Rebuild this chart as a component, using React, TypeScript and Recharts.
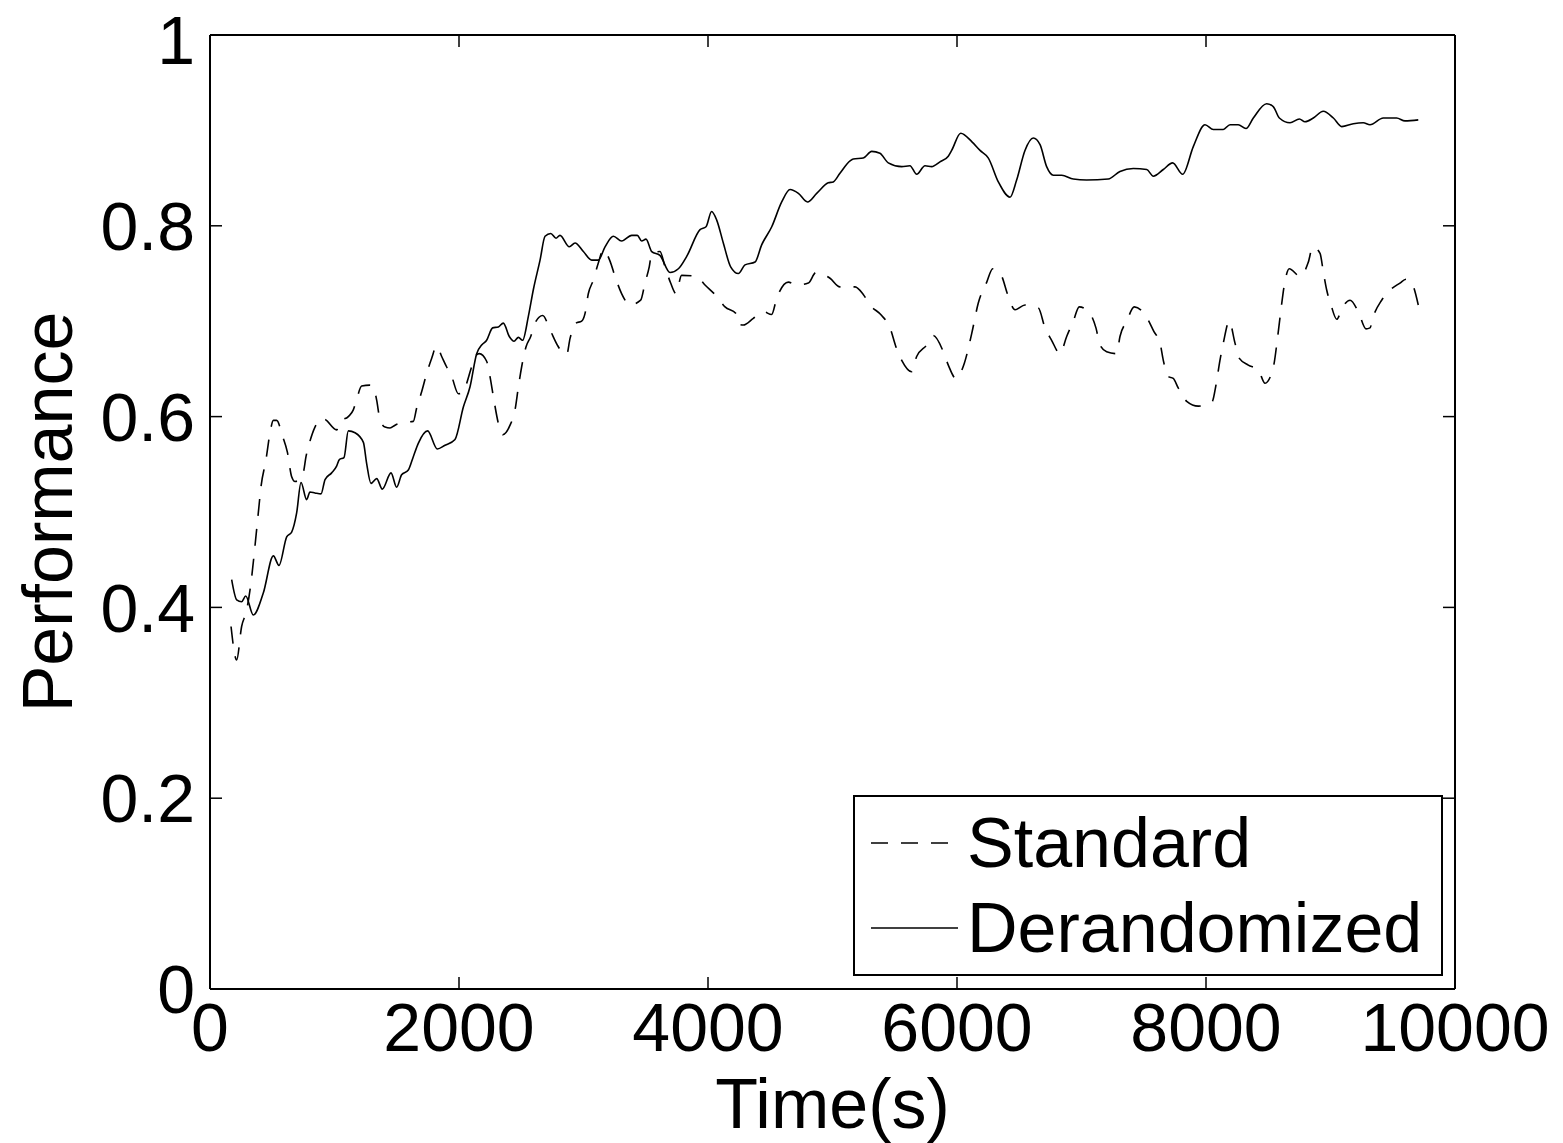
import React from "react";
import { LineChart, Line, XAxis, YAxis, Legend, Label } from "recharts";

interface Pt {
  t: number;
  v: number;
}

const toPts = (rows: number[][]): Pt[] => rows.map(([t, v]) => ({ t, v }));

const xTicks = [0, 2000, 4000, 6000, 8000, 10000];
const yTicks = [0, 0.2, 0.4, 0.6, 0.8, 1];

// "Standard" run (dashed)
const standard = toPts([
  [169, 0.38], [214, 0.345], [254, 0.38], [294, 0.397], [335, 0.432], [361, 0.464],
  [388, 0.499], [410, 0.527], [450, 0.555], [482, 0.583], [509, 0.596], [535, 0.596],
  [584, 0.579], [621, 0.563], [656, 0.537], [683, 0.532], [709, 0.533], [749, 0.541],
  [771, 0.558], [798, 0.572], [843, 0.589], [897, 0.598], [924, 0.597], [1017, 0.586],
  [1044, 0.595], [1111, 0.6], [1151, 0.607], [1178, 0.618], [1218, 0.632], [1285, 0.633],
  [1312, 0.631], [1339, 0.617], [1365, 0.597], [1406, 0.589], [1446, 0.588], [1486, 0.591],
  [1539, 0.594], [1633, 0.595], [1660, 0.609], [1700, 0.626], [1740, 0.645], [1780, 0.661],
  [1821, 0.674], [1861, 0.663], [1901, 0.652], [1941, 0.642], [1995, 0.624], [2035, 0.625],
  [2062, 0.635], [2094, 0.649], [2129, 0.663], [2163, 0.666], [2222, 0.658], [2249, 0.642],
  [2281, 0.617], [2316, 0.593], [2351, 0.581], [2410, 0.591], [2450, 0.607], [2477, 0.631],
  [2503, 0.652], [2538, 0.673], [2576, 0.684], [2610, 0.698], [2672, 0.706], [2731, 0.691],
  [2790, 0.675], [2825, 0.668], [2865, 0.665], [2892, 0.682], [2940, 0.698], [2985, 0.7],
  [3012, 0.708], [3039, 0.729], [3079, 0.743], [3119, 0.761], [3160, 0.775], [3213, 0.763],
  [3253, 0.747], [3306, 0.729], [3373, 0.717], [3459, 0.722], [3494, 0.74], [3528, 0.757],
  [3548, 0.771], [3614, 0.773], [3655, 0.757], [3700, 0.74], [3743, 0.729], [3788, 0.748],
  [3908, 0.747], [3976, 0.738], [4070, 0.726], [4137, 0.715], [4225, 0.708], [4244, 0.697],
  [4284, 0.696], [4364, 0.703], [4444, 0.71], [4511, 0.707], [4552, 0.724], [4645, 0.741],
  [4712, 0.738], [4806, 0.74], [4867, 0.751], [4980, 0.745], [5060, 0.736], [5181, 0.736],
  [5247, 0.728], [5301, 0.717], [5395, 0.706], [5462, 0.693], [5510, 0.673], [5556, 0.659],
  [5636, 0.647], [5676, 0.663], [5757, 0.675], [5810, 0.685], [5890, 0.668], [5930, 0.654],
  [5992, 0.64], [6059, 0.656], [6118, 0.687], [6171, 0.719], [6239, 0.741], [6287, 0.755],
  [6359, 0.747], [6404, 0.729], [6466, 0.712], [6546, 0.717], [6653, 0.714], [6707, 0.693],
  [6760, 0.68], [6827, 0.666], [6881, 0.684], [6934, 0.7], [6982, 0.715], [7068, 0.708],
  [7116, 0.693], [7149, 0.675], [7202, 0.668], [7283, 0.666], [7309, 0.684], [7363, 0.7],
  [7424, 0.715], [7524, 0.704], [7582, 0.689], [7631, 0.677], [7657, 0.659], [7697, 0.642],
  [7737, 0.64], [7777, 0.63], [7845, 0.616], [7938, 0.611], [7992, 0.612], [8051, 0.616],
  [8080, 0.633], [8112, 0.659], [8139, 0.677], [8187, 0.7], [8233, 0.677], [8268, 0.661],
  [8340, 0.654], [8420, 0.649], [8474, 0.635], [8541, 0.652], [8576, 0.684], [8602, 0.712],
  [8629, 0.738], [8669, 0.755], [8755, 0.747], [8822, 0.762], [8857, 0.778], [8916, 0.771],
  [8942, 0.752], [8969, 0.733], [9004, 0.717], [9050, 0.702], [9098, 0.715], [9157, 0.722],
  [9223, 0.71], [9285, 0.692], [9317, 0.693], [9344, 0.705], [9411, 0.722], [9465, 0.731],
  [9558, 0.74], [9606, 0.744], [9652, 0.74], [9705, 0.717],
]);

// "Derandomized" run (solid)
const derandomized = toPts([
  [174, 0.429], [214, 0.408], [254, 0.406], [287, 0.412], [348, 0.392], [428, 0.415],
  [509, 0.454], [554, 0.444], [616, 0.474], [656, 0.479], [696, 0.499], [731, 0.531],
  [776, 0.513], [803, 0.521], [843, 0.52], [892, 0.519], [924, 0.534], [977, 0.541],
  [1017, 0.548], [1039, 0.555], [1076, 0.557], [1111, 0.585], [1165, 0.583], [1232, 0.573],
  [1258, 0.551], [1293, 0.53], [1339, 0.535], [1384, 0.524], [1454, 0.541], [1499, 0.526],
  [1539, 0.539], [1593, 0.544], [1633, 0.558], [1673, 0.572], [1748, 0.585], [1826, 0.566],
  [1888, 0.57], [1968, 0.576], [2035, 0.61], [2088, 0.631], [2142, 0.666], [2182, 0.675],
  [2222, 0.68], [2270, 0.693], [2316, 0.694], [2356, 0.698], [2404, 0.684], [2442, 0.679],
  [2477, 0.683], [2511, 0.68], [2557, 0.705], [2597, 0.733], [2651, 0.764], [2691, 0.789],
  [2737, 0.792], [2779, 0.787], [2811, 0.79], [2886, 0.778], [2932, 0.782], [2999, 0.773],
  [3066, 0.764], [3119, 0.764], [3173, 0.778], [3240, 0.789], [3306, 0.784], [3387, 0.79],
  [3432, 0.79], [3467, 0.784], [3502, 0.786], [3548, 0.773], [3614, 0.769], [3695, 0.751],
  [3762, 0.755], [3829, 0.768], [3936, 0.796], [3984, 0.799], [4029, 0.815], [4070, 0.806],
  [4123, 0.782], [4182, 0.757], [4244, 0.75], [4297, 0.759], [4378, 0.762], [4431, 0.78],
  [4512, 0.799], [4592, 0.825], [4659, 0.838], [4726, 0.834], [4799, 0.825], [4873, 0.834],
  [4966, 0.845], [5006, 0.846], [5060, 0.855], [5141, 0.868], [5167, 0.87], [5247, 0.871],
  [5315, 0.878], [5381, 0.876], [5448, 0.866], [5556, 0.862], [5622, 0.863], [5676, 0.854],
  [5743, 0.863], [5797, 0.862], [5863, 0.867], [5930, 0.873], [5957, 0.879], [6030, 0.897],
  [6120, 0.888], [6185, 0.879], [6252, 0.871], [6332, 0.846], [6426, 0.83], [6479, 0.848],
  [6546, 0.879], [6613, 0.892], [6667, 0.885], [6720, 0.862], [6774, 0.853], [6841, 0.853],
  [6934, 0.849], [7041, 0.848], [7215, 0.849], [7309, 0.857], [7416, 0.86], [7524, 0.859],
  [7577, 0.852], [7657, 0.859], [7732, 0.866], [7813, 0.854], [7898, 0.883], [7992, 0.906],
  [8059, 0.901], [8139, 0.901], [8193, 0.906], [8259, 0.906], [8321, 0.902], [8380, 0.913],
  [8487, 0.928], [8540, 0.925], [8589, 0.913], [8675, 0.908], [8750, 0.912], [8795, 0.909],
  [8862, 0.913], [8942, 0.92], [9023, 0.913], [9090, 0.904], [9183, 0.907], [9263, 0.908],
  [9317, 0.906], [9424, 0.913], [9531, 0.913], [9598, 0.91], [9705, 0.911],
]);

const FONT = "'Liberation Sans', Arial, Helvetica, sans-serif";
const DASH = "17 13";
const noLabel = () => "";

const LegendBox = () => (
  <div
    style={{
      position: "relative",
      width: 586,
      height: 177,
      border: "2px solid #000",
      background: "#fff",
      fontFamily: FONT,
      fontSize: 70,
      color: "#000",
    }}
  >
    {[
      { name: "Standard", dash: DASH, top: 4 },
      { name: "Derandomized", dash: undefined, top: 89 },
    ].map((row) => (
      <div
        key={row.name}
        style={{ position: "absolute", left: 0, top: row.top, height: 84, display: "flex", alignItems: "center" }}
      >
        <svg width={110} height={20} style={{ display: "block" }}>
          <line x1={16} y1={10} x2={103} y2={10} stroke="#000" strokeWidth={1.6} strokeDasharray={row.dash} />
        </svg>
        <span style={{ lineHeight: "84px", marginLeft: 2 }}>{row.name}</span>
      </div>
    ))}
  </div>
);

const App: React.FC = () => {
  return (
    <div style={{ position: "absolute", left: 0, top: 0, background: "#fff" }}>
      <LineChart width={1563} height={1143} margin={{ top: 34, right: 107, left: 0, bottom: 0 }}>
        <XAxis
          dataKey="t"
          type="number"
          domain={[0, 10000]}
          ticks={xTicks}
          height={154}
          axisLine={{ stroke: "#000", strokeWidth: 2 }}
          tickLine={{ stroke: "#000", strokeWidth: 1.5 }}
          tickSize={-12}
          tickMargin={26}
          tick={{ fill: "#000", fontSize: 68, fontFamily: FONT }}
          allowDataOverflow
        >
          <Label
            content={({ viewBox }: any) => (
              <text
                x={viewBox.x + viewBox.width / 2}
                y={1128}
                textAnchor="middle"
                fontSize={70}
                fontFamily={FONT}
                fill="#000"
              >
                Time(s)
              </text>
            )}
          />
        </XAxis>
        <XAxis
          xAxisId="top"
          orientation="top"
          dataKey="t"
          type="number"
          domain={[0, 10000]}
          ticks={xTicks}
          height={1}
          axisLine={{ stroke: "#000", strokeWidth: 2 }}
          tickLine={{ stroke: "#000", strokeWidth: 1.5 }}
          tickSize={-12}
          tickFormatter={noLabel}
          tick={{ fontSize: 1 }}
          allowDataOverflow
        />
        <YAxis
          type="number"
          domain={[0, 1]}
          ticks={yTicks}
          width={210}
          axisLine={{ stroke: "#000", strokeWidth: 2 }}
          tickLine={{ stroke: "#000", strokeWidth: 1.5 }}
          tickSize={-12}
          tickMargin={27}
          tick={{ fill: "#000", fontSize: 68, fontFamily: FONT }}
          allowDataOverflow
        >
          <Label
            content={({ viewBox }: any) => {
              const cx = 72;
              const cy = viewBox.y + viewBox.height / 2;
              return (
                <text
                  x={cx}
                  y={cy}
                  transform={`rotate(-90 ${cx} ${cy})`}
                  textAnchor="middle"
                  fontSize={70}
                  fontFamily={FONT}
                  fill="#000"
                >
                  Performance
                </text>
              );
            }}
          />
        </YAxis>
        <YAxis
          yAxisId="right"
          orientation="right"
          type="number"
          domain={[0, 1]}
          ticks={yTicks}
          width={1}
          axisLine={{ stroke: "#000", strokeWidth: 2 }}
          tickLine={{ stroke: "#000", strokeWidth: 1.5 }}
          tickSize={-12}
          tickFormatter={noLabel}
          tick={{ fontSize: 1 }}
          allowDataOverflow
        />
        <Legend
          layout="vertical"
          align="center"
          verticalAlign="middle"
          content={() => <LegendBox />}
          wrapperStyle={{ left: 853, top: 795, right: "auto", bottom: "auto", width: 590, height: 181 }}
        />
        <Line
          data={standard}
          dataKey="v"
          name="Standard"
          type="monotone"
          stroke="#000"
          strokeWidth={1.6}
          strokeDasharray={DASH}
          dot={false}
          isAnimationActive={false}
        />
        <Line
          data={derandomized}
          dataKey="v"
          name="Derandomized"
          type="monotone"
          stroke="#000"
          strokeWidth={1.6}
          dot={false}
          isAnimationActive={false}
        />
      </LineChart>
    </div>
  );
};

export default App;
